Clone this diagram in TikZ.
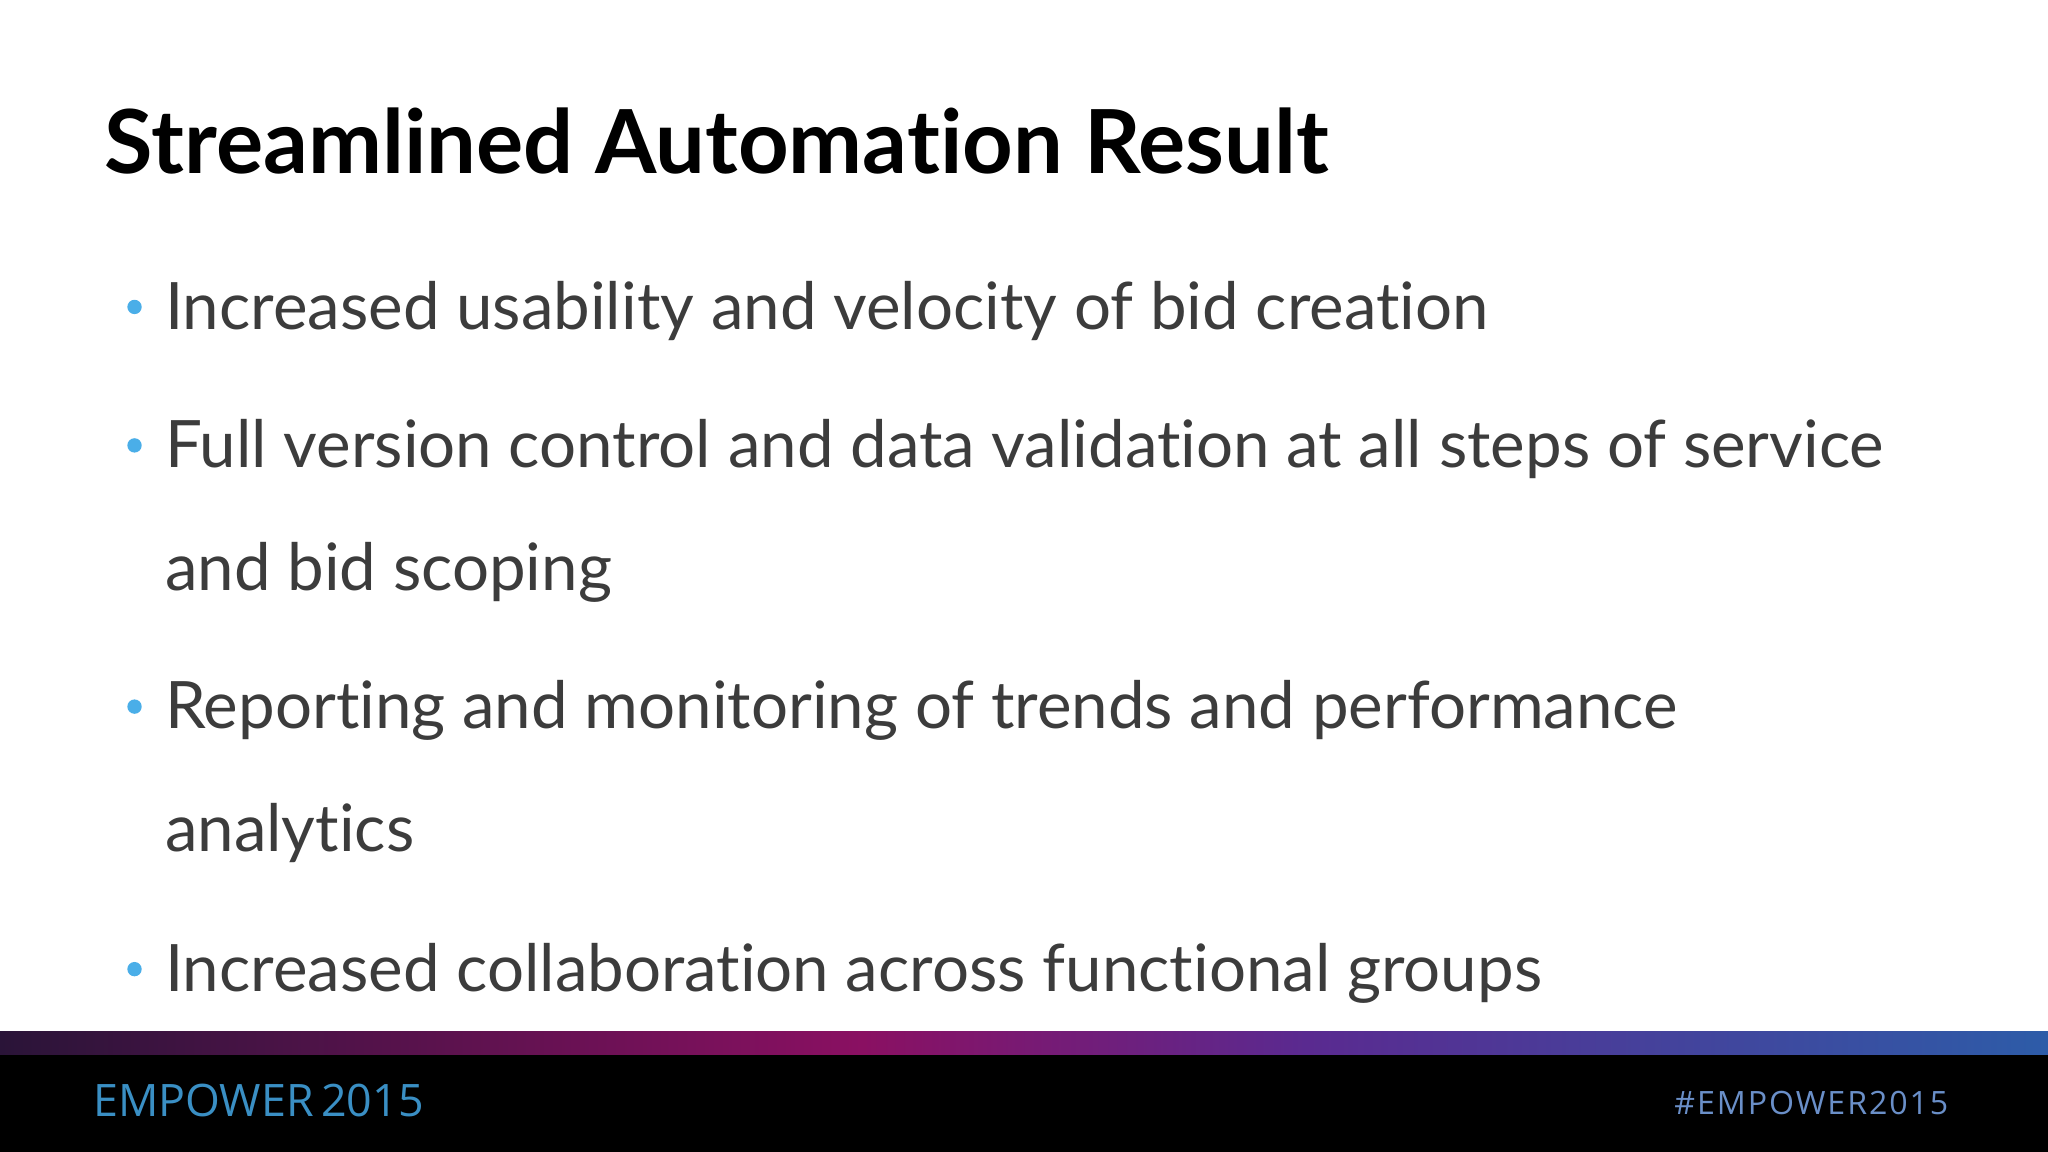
\documentclass[tikz,border=0pt]{standalone}
\usepackage{fontspec}
\setmainfont[Ligatures=NoCommon]{Lato}
\newfontfamily\opensans{Open Sans}
\definecolor{txt}{HTML}{3C3C3C}
\definecolor{bul}{HTML}{4AAEE8}
\definecolor{emp}{HTML}{3A8FC4}
\definecolor{tag}{HTML}{6A8FC8}
\definecolor{g1}{HTML}{2A1438}
\definecolor{g2}{HTML}{8A1062}
\definecolor{g3}{HTML}{5A2A90}
\definecolor{g4}{HTML}{2D5CA8}
\begin{document}
\begin{tikzpicture}[x=0.02cm,y=-0.02cm,
  item/.style={anchor=base west,inner sep=0,font=\fontsize{28.5}{32}\selectfont,text=txt},
  dot/.style={circle,fill=bul,inner sep=0,minimum size=0.22cm}]
\useasboundingbox (0,0) rectangle (1568,882);
\fill[white] (0,0) rectangle (1568,882);
\node[anchor=base west,inner sep=0,font=\fontsize{38.5}{46}\selectfont\bfseries] (title) at (80,133) {Streamlined Automation Result};
\node[item] (b1) at (126,252) {Increased usability and velocity of bid creation};
\node[item] (b2) at (126,358) {Full version control and data validation at all steps of service};
\node[item] (b2b) at (126,452) {and bid scoping};
\node[item] (b3) at (126,558) {Reporting and monitoring of trends and performance};
\node[item] (b3b) at (126,652) {analytics};
\node[item] (b4) at (126,759) {Increased collaboration across functional groups};
\node[dot] (d1) at (103,235) {};
\node[dot] (d2) at (103,341) {};
\node[dot] (d3) at (103,541) {};
\node[dot] (d4) at (103,742) {};
\fill[black] (0,806) rectangle (1568,882);
\shade[left color=g1,right color=g2] (0,790) rectangle (660,807);
\shade[left color=g2,right color=g3] (660,790) rectangle (1000,807);
\shade[left color=g3,right color=g4] (1000,790) rectangle (1568,807);
\node[anchor=base west,inner sep=0,font=\opensans\fontsize{19.5}{24}\selectfont,text=emp] (emp) at (71,855) {EMPOWER\,2015};
\node[anchor=base east,inner sep=0,font=\opensans\fontsize{14}{18}\selectfont,text=tag] (tag) at (1492,853) {\addfontfeature{LetterSpace=6}\#EMPOWER2015};
\end{tikzpicture}
\end{document}
